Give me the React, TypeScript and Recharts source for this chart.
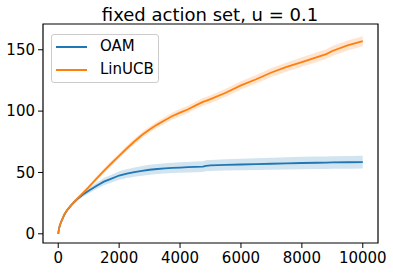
import React from "react";
import { Area, ComposedChart, Legend, Line, ReferenceArea, XAxis, YAxis } from "recharts";

// time steps shared by both runs
const steps = [
  0, 25, 50, 100, 200, 300, 400, 500, 650, 800, 1000, 1250, 1500, 1750, 2000, 2250, 2500, 2750, 3000,
  3250, 3500, 3750, 4000, 4250, 4500, 4750, 4850, 5000, 5500, 6000, 6500, 7000, 7500, 8000, 8500, 8800,
  9000, 9500, 10000,
];

// mean cumulative regret
const oamMean = [
  0, 4, 6.5, 10, 15.5, 19.5, 22.5, 25.3, 28.8, 31.8, 35, 39, 42.5, 45, 47.5, 49, 50.2, 51.3, 52.2,
  52.8, 53.3, 53.7, 54, 54.3, 54.5, 54.7, 55.4, 55.7, 56.1, 56.5, 56.8, 57.1, 57.4, 57.7, 57.9, 58,
  58.2, 58.3, 58.4,
];
const linucbMean = [
  0, 4, 6.5, 10, 16, 19.5, 22.5, 25.5, 29.3, 33, 38, 44.8, 51.3, 57.5, 63.5, 69.5, 75.2, 80.5, 85,
  89, 92.5, 96, 98.8, 101.3, 104.5, 107.5, 108.3, 109.8, 115, 121, 126, 131.5, 136, 140, 144, 146.5,
  149, 153.5, 157,
];

// half width of the shaded band
const oamSpread = [
  0, 0.5, 0.6, 0.8, 1, 1.2, 1.4, 1.5, 1.7, 1.9, 2.1, 2.5, 2.9, 3.2, 3.4, 3.6, 3.8, 3.9, 4, 4.1, 4.2,
  4.2, 4.3, 4.3, 4.4, 4.4, 4.5, 4.5, 4.6, 4.7, 4.8, 4.9, 5, 5, 5.1, 5.1, 5.1, 5.2, 5.2,
];
const linucbSpread = [
  0, 0.4, 0.5, 0.7, 0.9, 1, 1.1, 1.2, 1.3, 1.4, 1.5, 1.7, 1.9, 2, 2.1, 2.2, 2.3, 2.4, 2.5, 2.6, 2.7,
  2.8, 2.9, 3, 3, 3.1, 3.1, 3.2, 3.3, 3.4, 3.5, 3.6, 3.7, 3.8, 3.9, 3.9, 4, 4, 4.1,
];

const xTicks = [0, 2000, 4000, 6000, 8000, 10000];
const yTicks = [0, 50, 100, 150];

const BLUE = "#1f77b4";
const ORANGE = "#ff7f0e";
const FONT = "DejaVu Sans";

const rows = steps.map((t, i) => ({
  t,
  oam: oamMean[i],
  linucb: linucbMean[i],
  oamBand: [oamMean[i] - oamSpread[i], oamMean[i] + oamSpread[i]],
  linucbBand: [linucbMean[i] - linucbSpread[i], linucbMean[i] + linucbSpread[i]],
}));

const series = [
  { name: "OAM", color: BLUE },
  { name: "LinUCB", color: ORANGE },
];

function LegendBox() {
  return (
    <div
      style={{
        width: 106,
        height: 47,
        border: "1px solid #cccccc",
        borderRadius: 3,
        background: "rgba(255,255,255,0.8)",
        fontFamily: FONT,
        fontSize: 15,
        color: "#000",
        position: "relative",
      }}
    >
      {series.map((s, i) => (
        <div key={s.name} style={{ position: "absolute", left: 0, top: 3 + i * 23, height: 17, display: "flex", alignItems: "center" }}>
          <span style={{ display: "inline-block", marginLeft: 4, width: 31, height: 2, background: s.color }} />
          <span style={{ marginLeft: 13, lineHeight: "17px" }}>{s.name}</span>
        </div>
      ))}
    </div>
  );
}

export default function App() {
  return (
    <div style={{ position: "absolute", left: 0, top: 0, width: 393, height: 273, background: "#fff" }}>
      <svg width={393} height={30} style={{ position: "absolute", left: 0, top: 0 }}>
        <text x={210} y={21} textAnchor="middle" fontFamily={FONT} fontSize={18} fill="#000">
          fixed action set, u = 0.1
        </text>
      </svg>
      <ComposedChart width={393} height={273} data={rows} margin={{ top: 24, right: 15, bottom: 0, left: 0 }}>
        <XAxis
          dataKey="t"
          type="number"
          domain={[-500, 10500]}
          ticks={xTicks}
          allowDataOverflow
          height={30}
          axisLine={false}
          tickLine={{ stroke: "#000", strokeWidth: 1 }}
          tickSize={5}
          tickMargin={4}
          tick={{ fill: "#000", fontSize: 15, fontFamily: FONT }}
        />
        <YAxis
          type="number"
          domain={[-7.5, 171]}
          ticks={yTicks}
          allowDataOverflow
          width={43}
          axisLine={false}
          tickLine={{ stroke: "#000", strokeWidth: 1 }}
          tickSize={5}
          tickMargin={3}
          tick={{ fill: "#000", fontSize: 15, fontFamily: FONT }}
        />
        <Area dataKey="oamBand" type="linear" stroke="none" fill={BLUE} fillOpacity={0.2} isAnimationActive={false} />
        <Area dataKey="linucbBand" type="linear" stroke="none" fill={ORANGE} fillOpacity={0.2} isAnimationActive={false} />
        <Line dataKey="oam" type="linear" stroke={BLUE} strokeWidth={1.8} dot={false} isAnimationActive={false} />
        <Line dataKey="linucb" type="linear" stroke={ORANGE} strokeWidth={1.8} dot={false} isAnimationActive={false} />
        <ReferenceArea x1={-500} x2={10500} y1={-7.5} y2={171} fill="none" stroke="#000" strokeWidth={1.2} ifOverflow="extendDomain" />
        <Legend
          layout="vertical"
          align="center"
          verticalAlign="middle"
          wrapperStyle={{ left: 51, top: 34, width: 108, height: 49 }}
          content={() => <LegendBox />}
        />
      </ComposedChart>
    </div>
  );
}
